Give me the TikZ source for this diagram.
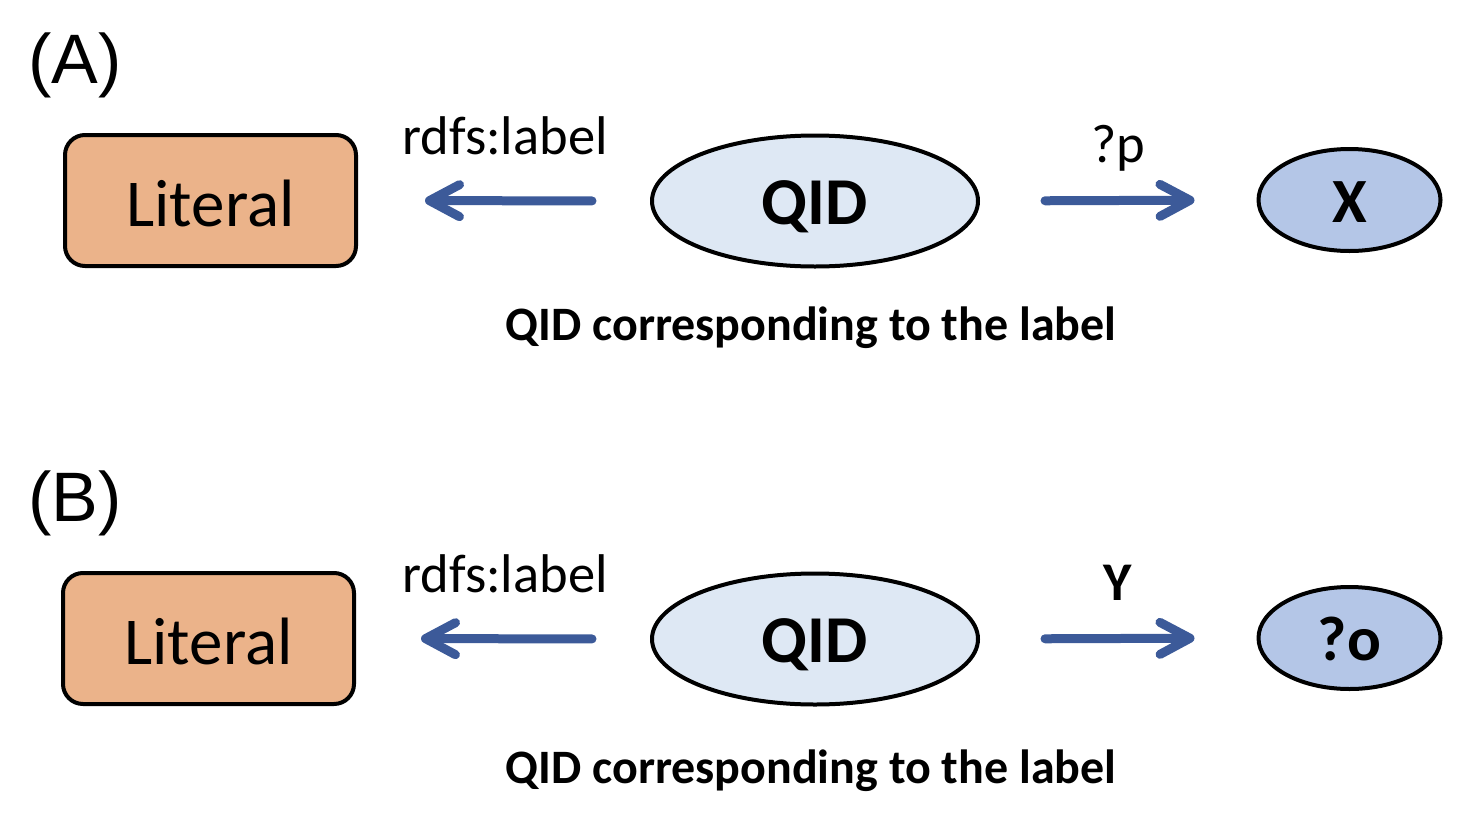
\documentclass[tikz,border=0pt]{standalone}
\usepackage{fontspec}
\setmainfont{Carlito}
\newfontfamily\tagfont{Liberation Sans}
\usetikzlibrary{shapes.geometric,arrows.meta}
\definecolor{litfill}{HTML}{EBB38A}
\definecolor{qidfill}{HTML}{DEE8F4}
\definecolor{varfill}{HTML}{B4C6E7}
\definecolor{arrblue}{HTML}{3C5A99}
\begin{document}
\begin{tikzpicture}[x=1pt, y=-1pt, line width=4pt]
\tikzstyle{literal}=[draw,rounded corners=20pt,fill=litfill,minimum width=291pt,minimum height=131pt,text height=51pt,text depth=0pt,font=\fontsize{67}{70}\selectfont]
\tikzstyle{qid}=[draw,ellipse,fill=qidfill,minimum width=326pt,minimum height=131pt,text height=46pt,text depth=0pt,font=\fontsize{67}{70}\selectfont\bfseries]
\tikzstyle{var}=[draw,ellipse,fill=varfill,minimum width=182pt,minimum height=102pt,inner sep=0pt,text height=44pt,text depth=0pt,font=\fontsize{63}{66}\selectfont\bfseries]
\tikzstyle{rel}=[draw=arrblue,line width=9pt,line cap=round,-{Straight Barb[length=30pt,width=32pt,round]}]
\tikzstyle{lbl}=[anchor=base,font=\fontsize{54.5}{58}\selectfont]
\tikzstyle{note}=[anchor=base,font=\fontsize{48}{50}\selectfont\bfseries]
\useasboundingbox (0,0) rectangle (1478,830);
  \foreach \y/\tag/\dx/\dn/\pred/\obj in {0/A/0/0/?p/X, 438/B/-2/5/\textbf{Y}/?o} {
    \node[anchor=base,font=\fontsize{70}{74}\selectfont\tagfont] (tag\tag) at (75,83+\y) {(\tag)};
    \node[literal] (lit\tag) at (210.5+\dx,200.5+\y) {Literal};
    \node[qid] (qid\tag) at (815,201+\y) {QID};
    \node[var] (var\tag) at (1349.5,200+\y) {\obj};
    \node[lbl] (rdfs\tag) at (505,154+\y) {rdfs:label};
    \node[lbl] (pred\tag) at (1118,162+\y) {\pred};
    \node[note] (note\tag) at (811,340+\y+\dn) {QID corresponding to the label};
    \draw[rel, shorten <=58pt, shorten >=67pt+\dx] (qid\tag.west) -- (lit\tag.east);
    \draw[rel, shorten <=65pt, shorten >=62pt] (qid\tag.east) -- (var\tag.west);
  }
\end{tikzpicture}
\end{document}
